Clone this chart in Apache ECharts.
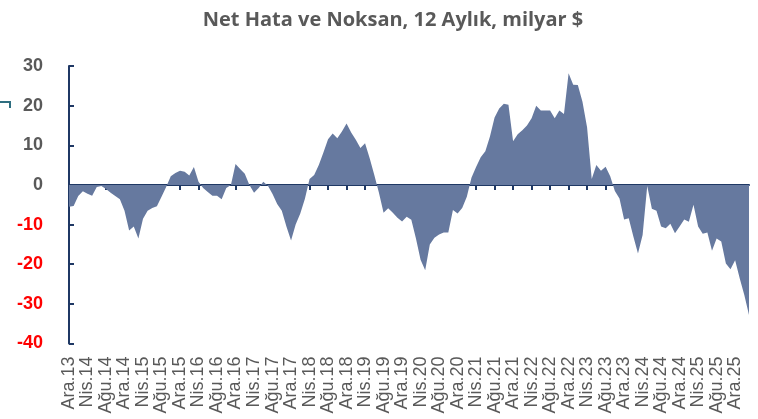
<!DOCTYPE html>
<html>
<head>
<meta charset="utf-8">
<script src="https://cdn.jsdelivr.net/npm/echarts@6/dist/echarts.min.js"></script>
<style>html,body{margin:0;padding:0;background:#fff}#c{width:758px;height:419px}</style>
</head>
<body>
<div id="c"></div>
<script>
// Month abbreviations (Turkish) and years covered: Ara.13 ... Mar.26
const monthNames = ["Oca","Şub","Mar","Nis","May","Haz","Tem","Ağu","Eyl","Eki","Kas","Ara"];
const startYear = 2013, startMonth = 11; // December 2013

// Net errors & omissions, 12-month rolling, billion $
const values = [
 -5.5,-5.3,-2.8,-1.6,-2.2,-2.7,-0.5,-0.3,-1.0,-2.0,-2.8,-3.6,
 -6.5,-11.5,-10.5,-13.5,-8.5,-6.5,-5.8,-5.4,-3.0,-0.5,2.2,3.0,
 3.6,3.3,2.4,4.5,0.8,-0.8,-1.8,-2.7,-2.7,-3.6,-0.8,0.0,
 5.3,4.0,2.8,0.0,-2.0,-0.8,0.8,-0.2,-2.3,-4.8,-6.5,-10.5,
 -14.0,-10.0,-7.2,-3.5,1.5,2.5,5.0,8.2,11.5,13.0,11.8,13.5,
 15.5,13.2,11.4,9.3,10.5,6.7,2.5,-2.0,-7.0,-5.9,-7.0,-8.3,
 -9.2,-8.0,-8.8,-13.5,-18.9,-21.5,-15.0,-13.3,-12.5,-12.0,-12.0,-6.3,
 -7.2,-5.8,-3.0,1.8,4.5,7.0,8.5,12.2,17.0,19.3,20.5,20.2,
 11.0,12.8,13.8,15.0,16.8,20.0,18.8,18.8,18.8,16.8,18.8,17.9,
 28.2,25.3,25.2,21.0,14.5,1.5,5.0,3.6,4.6,2.2,-1.5,-3.4,
 -8.7,-8.4,-13.0,-17.3,-12.6,-0.3,-6.0,-6.5,-10.5,-10.9,-9.8,-12.2,
 -10.5,-8.7,-9.3,-5.0,-10.5,-12.3,-12.0,-16.6,-13.5,-14.3,-19.8,-21.3,
 -19.0,-23.6,-27.8,-32.8
];

const yTicks = [-40,-30,-20,-10,0,10,20,30];
const titleText = "Net Hata ve Noksan, 12 Aylık, milyar $";

const categories = values.map((_, i) => {
  const m = (startMonth + i) % 12;
  const y = startYear + Math.floor((startMonth + i) / 12);
  return monthNames[m] + "." + String(y % 100).padStart(2, "0");
});

const navy = "#1f3864";
const chart = echarts.init(document.getElementById("c"), null, {renderer: "canvas"});
chart.setOption({
  animation: false,
  backgroundColor: "#ffffff",
  title: {
    text: titleText,
    left: 388, top: 5, textAlign: "center",
    textStyle: {fontFamily: "Open Sans", fontWeight: "bold", fontSize: 20, color: "#595959"}
  },
  grid: {left: 69, right: 9, top: 66, bottom: 75.5, containLabel: false},
  xAxis: [{
    type: "category", data: categories, boundaryGap: false, position: "bottom",
    axisLine: {onZero: true, lineStyle: {color: navy, width: 2}},
    axisTick: {show: true, interval: 3, length: 5, lineStyle: {color: navy, width: 2}},
    axisLabel: {show: false}, splitLine: {show: false}
  }, {
    type: "category", data: categories, boundaryGap: false, position: "bottom",
    axisLine: {show: false, onZero: false}, axisTick: {show: false},
    axisLabel: {interval: 3, rotate: 90, margin: 13, fontSize: 18, color: "#595959", fontFamily: "Liberation Sans"},
    splitLine: {show: false}
  }],
  yAxis: {
    type: "value", min: yTicks[0], max: yTicks[yTicks.length - 1], interval: 10,
    axisLine: {show: true, lineStyle: {color: navy, width: 2}},
    axisTick: {show: true, inside: true, length: 5, lineStyle: {color: navy, width: 2}},
    splitLine: {show: false},
    axisLabel: {
      margin: 26,
      formatter: v => v < 0 ? "{n|" + v + "}" : "{p|" + v + "}",
      rich: {
        n: {color: "#ff0000", fontWeight: "bold", fontSize: 18, fontFamily: "Liberation Sans"},
        p: {color: "#595959", fontWeight: "bold", fontSize: 18, fontFamily: "Liberation Sans"}
      }
    }
  },
  graphic: [{
    type: "polyline", shape: {points: [[0, 102], [10, 102], [10, 108]]},
    style: {stroke: "#2e6e80", lineWidth: 2, fill: null}
  }],
  series: [{
    type: "line", xAxisIndex: 0, data: values, symbol: "none",
    lineStyle: {width: 0}, areaStyle: {color: "#66799f", opacity: 1}
  }]
});
</script>
</body>
</html>
